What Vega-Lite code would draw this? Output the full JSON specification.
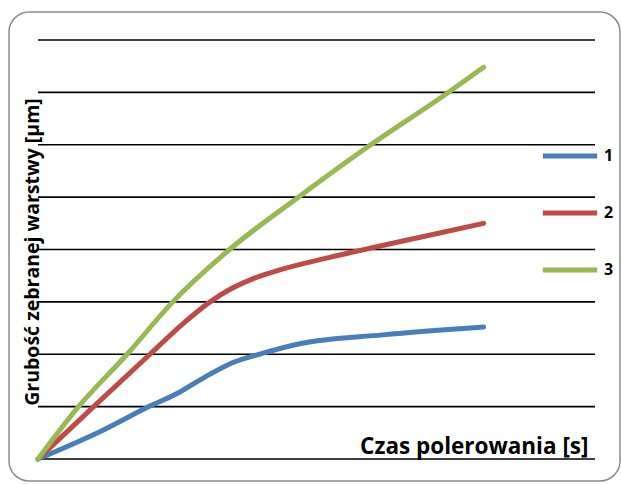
{
  "$schema": "https://vega.github.io/schema/vega-lite/v6.json",
  "width": 611,
  "height": 469,
  "autosize": "none",
  "padding": {"left": 9, "top": 12, "right": 1, "bottom": 3},
  "background": "white",
  "config": {
    "view": {"stroke": "#8c8c8c", "strokeWidth": 1.5, "cornerRadius": 20},
    "font": "Open Sans"
  },
  "datasets": {
    "series": [
      {"t": 0, "v": 0, "s": "1"},
      {"t": 1.11, "v": 0.52, "s": "1"},
      {"t": 2.01, "v": 1.01, "s": "1"},
      {"t": 2.55, "v": 1.28, "s": "1"},
      {"t": 2.91, "v": 1.51, "s": "1"},
      {"t": 3.09, "v": 1.62, "s": "1"},
      {"t": 3.45, "v": 1.82, "s": "1"},
      {"t": 4.04, "v": 2.02, "s": "1"},
      {"t": 4.7, "v": 2.2, "s": "1"},
      {"t": 6.19, "v": 2.37, "s": "1"},
      {"t": 8.0, "v": 2.52, "s": "1"},
      {"t": 0, "v": 0, "s": "2"},
      {"t": 0.99, "v": 0.99, "s": "2"},
      {"t": 2.01, "v": 2.0, "s": "2"},
      {"t": 2.6, "v": 2.58, "s": "2"},
      {"t": 3.09, "v": 3.0, "s": "2"},
      {"t": 3.45, "v": 3.24, "s": "2"},
      {"t": 3.81, "v": 3.42, "s": "2"},
      {"t": 4.34, "v": 3.61, "s": "2"},
      {"t": 5.24, "v": 3.85, "s": "2"},
      {"t": 6.8, "v": 4.22, "s": "2"},
      {"t": 8.0, "v": 4.5, "s": "2"},
      {"t": 0, "v": 0, "s": "3"},
      {"t": 0.72, "v": 0.99, "s": "3"},
      {"t": 1.6, "v": 2.0, "s": "3"},
      {"t": 2.42, "v": 3.0, "s": "3"},
      {"t": 3.45, "v": 4.01, "s": "3"},
      {"t": 4.65, "v": 4.98, "s": "3"},
      {"t": 5.96, "v": 5.99, "s": "3"},
      {"t": 7.34, "v": 6.98, "s": "3"},
      {"t": 8.0, "v": 7.48, "s": "3"}
    ],
    "grid": [
      {"g": 0, "a": 0, "b": 10},
      {"g": 1, "a": 0, "b": 10},
      {"g": 2, "a": 0, "b": 10},
      {"g": 3, "a": 0, "b": 10},
      {"g": 4, "a": 0, "b": 10},
      {"g": 5, "a": 0, "b": 10},
      {"g": 6, "a": 0, "b": 10},
      {"g": 7, "a": 0, "b": 10},
      {"g": 8, "a": 0, "b": 10}
    ]
  },
  "layer": [
    {
      "data": {"name": "grid"},
      "mark": {"type": "rule", "color": "#000000", "strokeWidth": 1.6},
      "encoding": {
        "y": {"field": "g", "type": "quantitative", "scale": {"domain": [-0.42, 8.535], "nice": false, "zero": false},
          "axis": {"title": "Grubość zebranej warstwy [µm]", "labels": false, "ticks": false, "domain": false, "grid": false,
            "titleFont": "Open Sans", "titleFontSize": 19.5, "titleFontWeight": "bold", "titleColor": "#000000",
            "titleX": 29, "titleY": 239.5, "titleBaseline": "alphabetic", "titleAlign": "center", "titleAngle": 270}},
        "x": {"field": "a", "type": "quantitative", "scale": {"domain": [-0.5206, 10.449], "nice": false, "zero": false},
          "axis": {"title": "Czas polerowania [s]", "labels": false, "ticks": false, "domain": false, "grid": false,
            "titleFont": "Open Sans", "titleFontSize": 22.5, "titleFontWeight": "bold", "titleColor": "#000000",
            "titleX": 579, "titleY": -28, "titleBaseline": "alphabetic", "titleAlign": "right"}},
        "x2": {"field": "b"}
      }
    },
    {
      "data": {"name": "series"},
      "mark": {"type": "line", "strokeWidth": 5, "strokeCap": "round", "interpolate": "monotone"},
      "encoding": {
        "x": {"field": "t", "type": "quantitative"},
        "y": {"field": "v", "type": "quantitative"},
        "color": {"field": "s", "type": "nominal",
          "scale": {"domain": ["1", "2", "3"], "range": ["#4A7EBB", "#BE4B48", "#98B954"]},
          "legend": {"title": null, "orient": "none", "legendX": 531, "legendY": 114,
            "symbolType": "stroke", "symbolSize": 2950, "symbolStrokeWidth": 5,
            "labelFont": "Open Sans", "labelFontSize": 16, "labelFontWeight": "bold", "labelColor": "#000000",
            "labelOffset": 4, "rowPadding": 17}}
      }
    }
  ]
}
